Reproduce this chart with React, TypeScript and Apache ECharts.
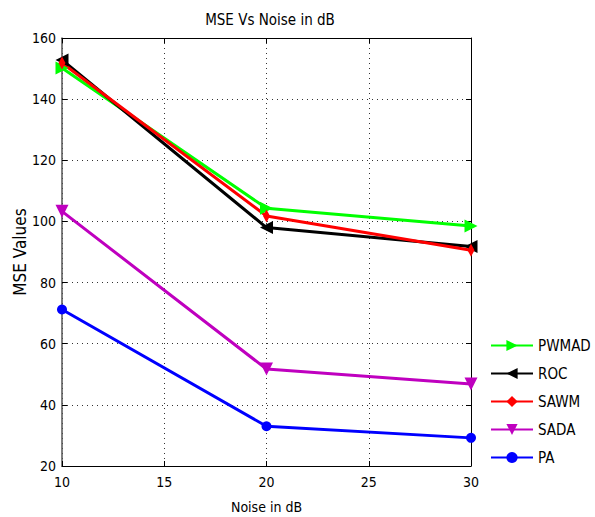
import React, { useEffect, useRef } from "react";
import * as echarts from "echarts";

const noiseDb = [10, 20, 30];
const pwmad = [150.2, 104.3, 98.5];
const roc = [152.8, 98.0, 91.8];
const sawm = [151.8, 101.8, 90.6];
const sada = [103.3, 51.7, 46.8];
const pa = [71.2, 33.0, 29.2];

const FONT = "'Liberation Sans Narrow', 'DejaVu Sans Condensed', 'Liberation Sans', Arial, sans-serif";

export default function App() {
  const ref = useRef<HTMLDivElement>(null);
  useEffect(() => {
    if (!ref.current) return;
    const chart = echarts.init(ref.current, null, { renderer: "svg" });
    const mk = (name: string, data: number[], color: string, symbol: string, rot: number, size: any) => ({
      name,
      type: "line",
      data: noiseDb.map((x, i) => [x, data[i]]),
      symbol,
      symbolRotate: rot,
      symbolSize: size,
      lineStyle: { color, width: 3 },
      itemStyle: { color },
      z: 3,
    });
    chart.setOption({
      animation: false,
      backgroundColor: "#fff",
      textStyle: { fontFamily: FONT },
      title: {
        text: "MSE Vs Noise in dB",
        left: 265,
        textAlign: "center",
        top: 7,
        textStyle: { fontSize: 15, fontWeight: "normal", color: "#000", fontFamily: FONT },
      },
      grid: { left: 62, right: 124, top: 38, bottom: 51, containLabel: false, outerBoundsMode: "none" },
      legend: {
        orient: "vertical",
        left: 485,
        top: 333,
        itemWidth: 42,
        itemHeight: 14,
        itemGap: 13,
        textStyle: { fontSize: 15, color: "#000", fontFamily: FONT },
        data: ["PWMAD", "ROC", "SAWM", "SADA", "PA"],
      },
      xAxis: [
        {
          type: "value",
          min: 10,
          max: 30,
          interval: 5,
          name: "Noise in dB",
          nameLocation: "middle",
          nameGap: 34,
          nameMoveOverlap: false,
          nameTextStyle: { fontSize: 14, color: "#000", fontFamily: FONT },
          axisLine: { lineStyle: { color: "#000", width: 1 } },
          axisTick: { inside: true, length: 5, lineStyle: { color: "#000" } },
          axisLabel: { fontSize: 14, color: "#000", margin: 9, fontFamily: FONT },
          splitLine: { show: true, lineStyle: { color: "#333", type: [1, 4], width: 1 } },
        },
        {
          type: "value",
          position: "top",
          min: 10,
          max: 30,
          interval: 5,
          axisLine: { lineStyle: { color: "#000", width: 1 } },
          axisTick: { inside: true, length: 5, lineStyle: { color: "#000" } },
          axisLabel: { show: false },
          splitLine: { show: false },
        },
      ],
      yAxis: [
        {
          type: "value",
          min: 20,
          max: 160,
          interval: 20,
          name: "MSE Values",
          nameLocation: "middle",
          nameGap: 34,
          nameMoveOverlap: false,
          nameTextStyle: { fontSize: 17, color: "#000", fontFamily: FONT },
          axisLine: { show: true, lineStyle: { color: "#555", width: 1.5 } },
          axisTick: { show: true, inside: true, length: 5, lineStyle: { color: "#000" } },
          axisLabel: { fontSize: 14, color: "#000", margin: 6, fontFamily: FONT },
          splitLine: { show: true, lineStyle: { color: "#333", type: [1, 4], width: 1 } },
        },
        {
          type: "value",
          position: "right",
          min: 20,
          max: 160,
          interval: 20,
          axisLine: { show: true, lineStyle: { color: "#000", width: 1 } },
          axisTick: { show: true, inside: true, length: 5, lineStyle: { color: "#000" } },
          axisLabel: { show: false },
          splitLine: { show: false },
        },
      ],
      series: [
        mk("PWMAD", pwmad, "#00ff00", "triangle", -90, 13),
        mk("ROC", roc, "#000000", "triangle", 90, 13),
        mk("SAWM", sawm, "#ff0000", "diamond", 0, [7, 13]),
        mk("SADA", sada, "#bf00bf", "triangle", 180, 13),
        mk("PA", pa, "#0000ff", "circle", 0, 10),
      ],
    });
    return () => chart.dispose();
  }, []);
  return <div ref={ref} style={{ width: 595, height: 517, position: "absolute", left: 0, top: 0 }} />;
}
